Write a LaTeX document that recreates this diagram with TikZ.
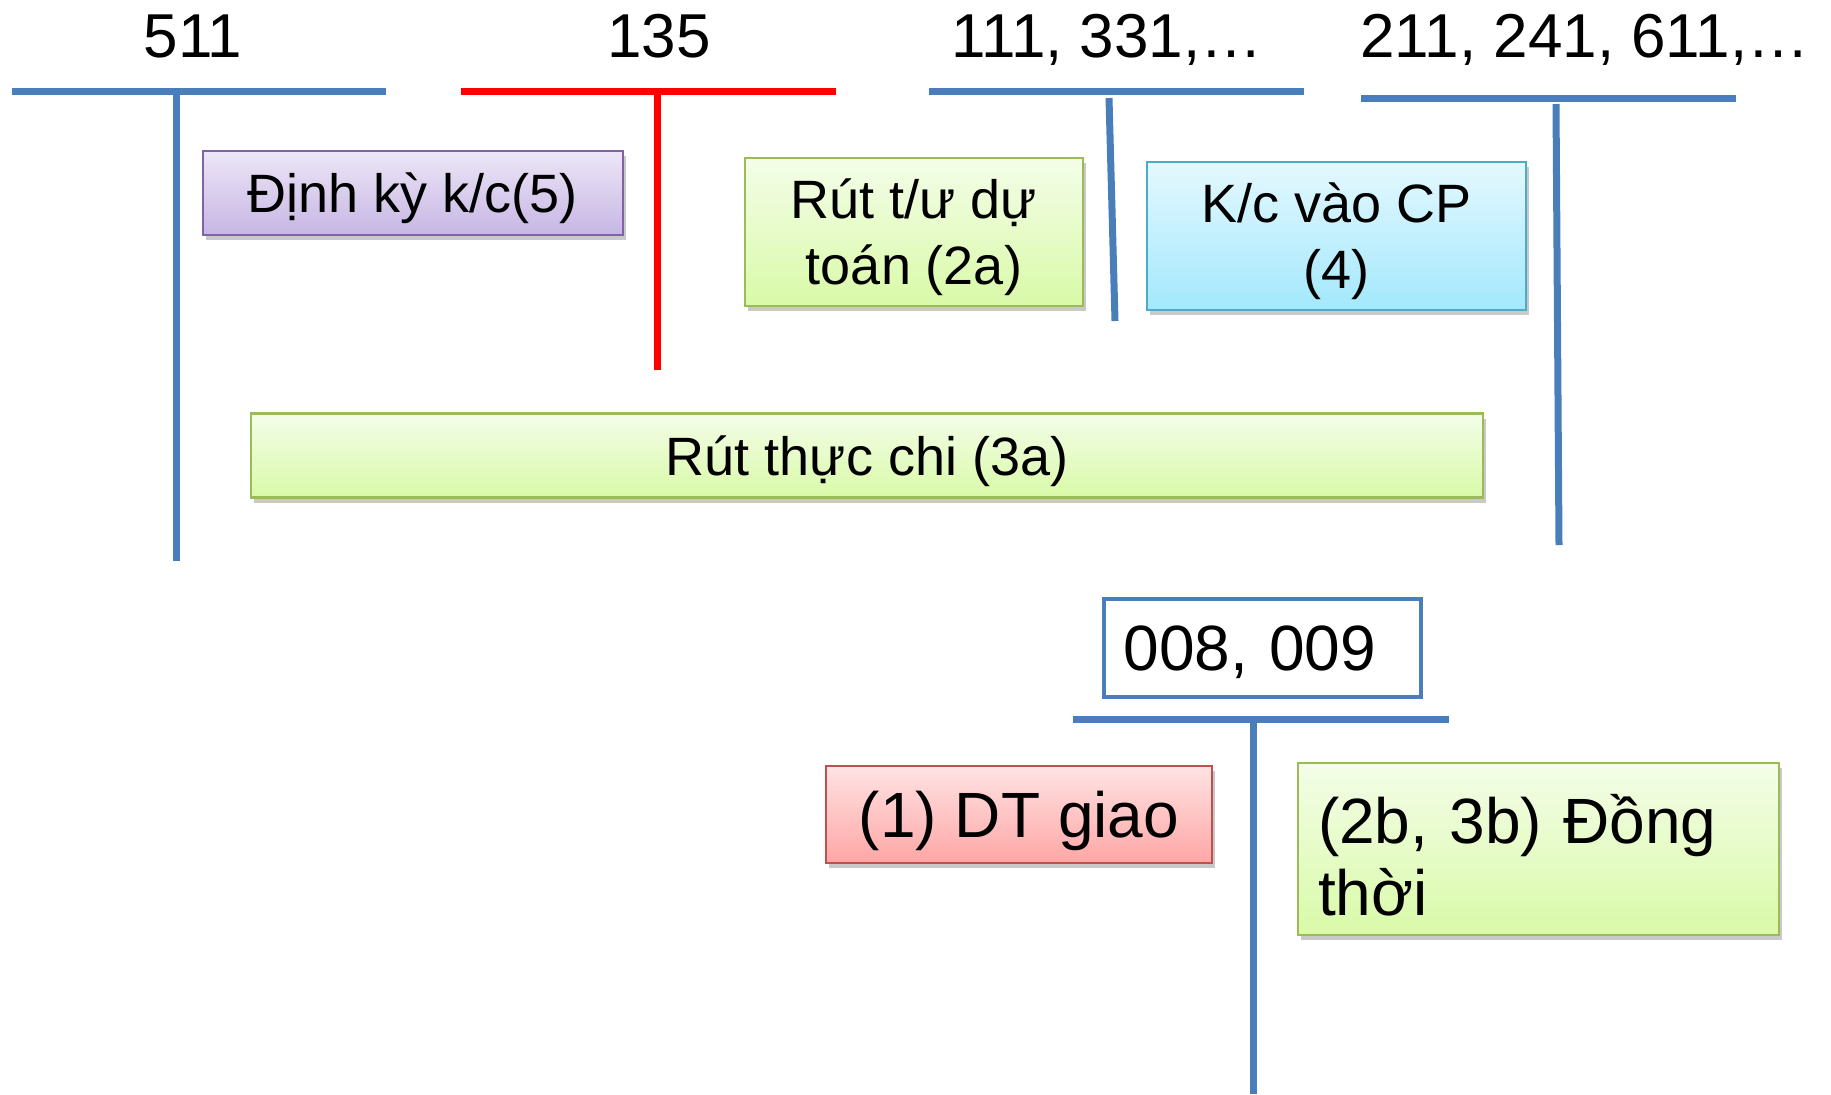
\documentclass[tikz,border=0pt]{standalone}
\usepackage{fontspec}
\setmainfont{Liberation Sans}
\usetikzlibrary{shadows}

\definecolor{acctblue}{HTML}{4A7EBB}
\definecolor{acctred}{HTML}{FF0000}
\definecolor{purpleline}{HTML}{8064A2}
\definecolor{greenline}{HTML}{9BBB59}
\definecolor{cyanline}{HTML}{4BACC6}
\definecolor{redline}{HTML}{C0504D}
\definecolor{purpletop}{HTML}{EDE6F6}
\definecolor{purplebot}{HTML}{C6B6E4}
\definecolor{greentop}{HTML}{F4FDE8}
\definecolor{greenbot}{HTML}{D9FAA8}
\definecolor{cyantop}{HTML}{E4F8FE}
\definecolor{cyanbot}{HTML}{A3E8FD}
\definecolor{redtop}{HTML}{FFE3E3}
\definecolor{redbot}{HTML}{FFA6A6}

\begin{document}
\begin{tikzpicture}[x=0.5pt,y=-0.5pt,
    bar/.style={line width=3.5pt, acctblue},
    acct/.style={anchor=base, font=\fontsize{31}{36}\selectfont},
    box/.style={draw, line width=1.2pt, align=center, inner sep=0pt, text depth=0pt,
        font=\fontsize{27}{33}\selectfont,
        drop shadow={shadow xshift=1.5pt, shadow yshift=-2.5pt, opacity=0.3, fill=black!70}},
    purplebox/.style={box, purpleline, text=black, top color=purpletop, bottom color=purplebot},
    greenbox/.style={box, greenline, text=black, top color=greentop, bottom color=greenbot},
    cyanbox/.style={box, cyanline, text=black, top color=cyantop, bottom color=cyanbot},
    redbox/.style={box, redline, text=black, top color=redtop, bottom color=redbot}]

\useasboundingbox (0,0) rectangle (1831,1094);

% account names
\node[acct] (n511) at (193,57) {511};
\node[acct] (n135) at (659,57) {135};
\node[acct] (n111) at (1107,57) {111, 331,…};
\node[acct] (n211) at (1585,57) {211, 241, 611,…};

% T shapes
\draw[bar] (12,91)--(386,91);
\draw[bar] (176,93)--(176,561);
\draw[bar, acctred] (461,91)--(836,91);
\draw[bar, acctred] (657,93)--(657,370);
\draw[bar] (929,91)--(1304,91);
\draw[bar] (1109,98)--(1115,321);
\draw[bar] (1361,98)--(1736,98);
\draw[bar] (1556,104)--(1559,545);

% entries
\node[purplebox, minimum width=210pt, minimum height=42pt] (dinhky) at (413,193) {Định kỳ k/c(5)};
\node[greenbox, minimum width=169pt, minimum height=74pt] (rut2a) at (914,232) {Rút t/ư dự\\toán (2a)};
\node[cyanbox, minimum width=189.5pt, minimum height=74pt] (kc4) at (1336.5,236) {K/c vào CP\\(4)};
\node[greenbox, minimum width=616pt, minimum height=42pt] (rut3a) at (867,455.5) {Rút thực chi (3a)};

% off-balance account
\node[draw=acctblue, line width=2pt, fill=white, inner xsep=10pt, text width=138.5pt, align=left,
    text depth=-2pt, minimum height=49pt, font=\fontsize{32}{38}\selectfont] (n008) at (1262,648) {008, 009};
\draw[bar] (1073,719)--(1449,719);
\draw[bar] (1253,721)--(1253,1094);

\node[redbox, minimum width=193pt, minimum height=48.5pt, text depth=-8pt,
    font=\fontsize{32}{38}\selectfont] (dtgiao) at (1019,814.5) {(1) DT giao};
\node[greenbox, inner xsep=10pt, text width=220.5pt, align=left, minimum height=86pt, text depth=30pt,
    font=\fontsize{32}{36}\selectfont] (dongthoi) at (1538.5,849) {(2b, 3b) Đồng\\thời};

\end{tikzpicture}
\end{document}
